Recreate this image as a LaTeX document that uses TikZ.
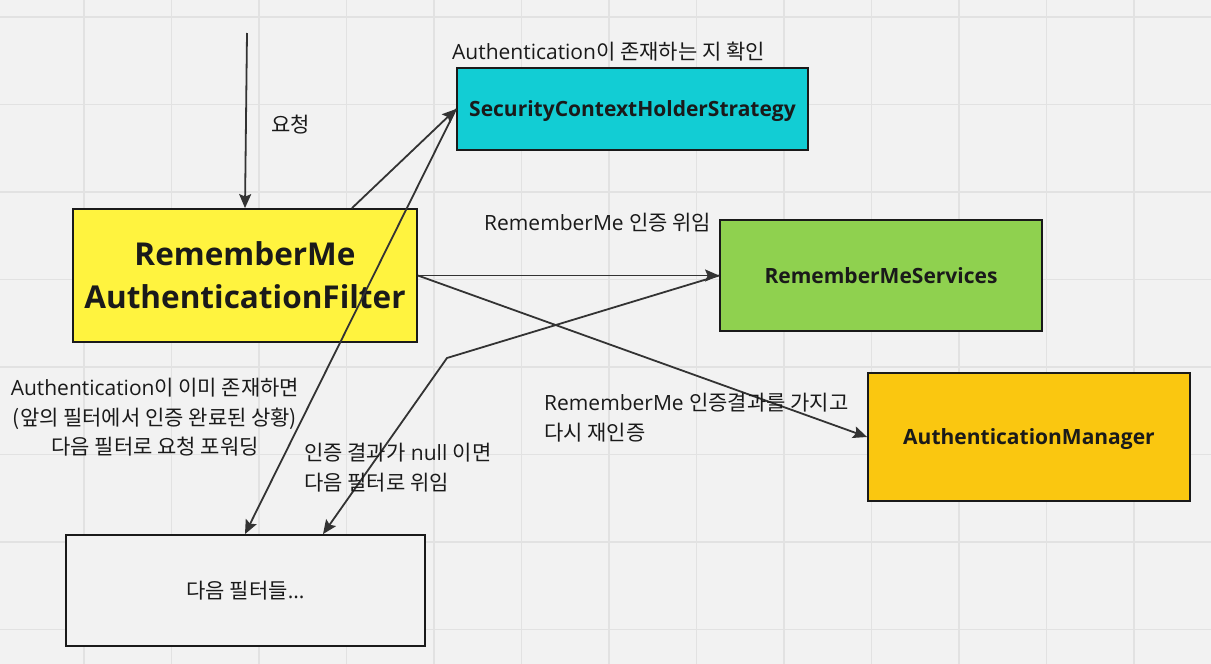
\documentclass[tikz,border=0pt]{standalone}
\usepackage{fontspec}
\setmainfont{Open Sans}
\newfontfamily\kr{Noto Sans CJK KR}
\usetikzlibrary{arrows.meta}
\definecolor{bg}{HTML}{F2F2F2}
\definecolor{gridc}{HTML}{E2E2E2}
\definecolor{ink}{HTML}{1A1A1A}
\definecolor{wire}{HTML}{333333}
\definecolor{yel}{HTML}{FFF33F}
\definecolor{cya}{HTML}{12CDD4}
\definecolor{grn}{HTML}{8FD14F}
\definecolor{org}{HTML}{FAC710}
\tikzset{
  box/.style={draw=ink, line width=1.8pt, inner sep=0pt, align=center, font=\bfseries\fontsize{21}{25}\selectfont, text=ink},
  oneline/.style={text height=15pt, text depth=0pt},
  lbl/.style={inner sep=0pt, text=ink, font=\fontsize{21}{29.5}\selectfont},
  wirearrow/.style={draw=wire, line width=1.8pt, -{Stealth[length=14pt,width=12pt,inset=2.5pt]}},
}
\begin{document}
\begin{tikzpicture}[x=1pt,y=-1pt]
\fill[bg] (0,0) rectangle (1211,664);
\useasboundingbox (0,0) rectangle (1211,664);
\foreach \i in {0,...,13} {\draw[gridc, line width=1.5pt] ({84+87.5*\i},0) -- ({84+87.5*\i},664);}
\foreach \i in {0,...,7} {\draw[gridc, line width=1.5pt] (0,{17+87.5*\i}) -- (1211,{17+87.5*\i});}

\node[box, fill=yel, minimum width=344pt, minimum height=133pt, font=\bfseries\fontsize{31.5}{43}\selectfont] (filter) at (245,275.5) {RememberMe\\AuthenticationFilter};
\node[box, oneline, fill=cya, minimum width=351pt, minimum height=82pt] (schs) at (632.5,109) {SecurityContextHolderStrategy};
\node[box, oneline, fill=grn, minimum width=322pt, minimum height=111pt] (rms) at (881,275.5) {RememberMeServices};
\node[box, oneline, fill=org, minimum width=322pt, minimum height=128pt] (am) at (1029,437) {AuthenticationManager};
\node[box, oneline, fill=bg, minimum width=359pt, minimum height=111pt, font=\fontsize{21}{25}\selectfont] (next) at (245.5,590.5) {{\kr 다음 필터들}...};

\coordinate (start) at (247,33);
\coordinate (bend) at (447,358);

\draw[wirearrow] (start) -- (filter.north);
\draw[wirearrow] ([xshift=107pt]filter.north) -- (schs.west);
\draw[wirearrow] (schs.west) -- ([xshift=-0.5pt]next.north);
\draw[wirearrow] (filter.east) -- (rms.west);
\draw[wirearrow] (rms.west) -- (bend) -- ([xshift=77.5pt]next.north);
\draw[wirearrow] (filter.east) -- (am.west);

\node[lbl, anchor=west] (l1) at (271,125) {\kr 요청};
\node[lbl, anchor=west] (l2) at (452,52) {Authentication{\kr 이 존재하는 지 확인}};
\node[lbl, anchor=west] (l3) at (484,223) {RememberMe {\kr 인증 위임}};
\node[lbl, anchor=north west, align=left] (l4) at (544,393) {RememberMe {\kr 인증결과를 가지고}\\{\kr 다시 재인증}};
\node[lbl, anchor=north, align=center] (l5) at (155,378) {Authentication{\kr 이 이미 존재하면}\\{\kr (앞의 필터에서 인증 완료된 상황)}\\{\kr 다음 필터로 요청 포워딩}};
\node[lbl, anchor=north west, align=left] (l6) at (304,443) {{\kr 인증 결과가} null {\kr 이면}\\{\kr 다음 필터로 위임}};
\end{tikzpicture}
\end{document}
